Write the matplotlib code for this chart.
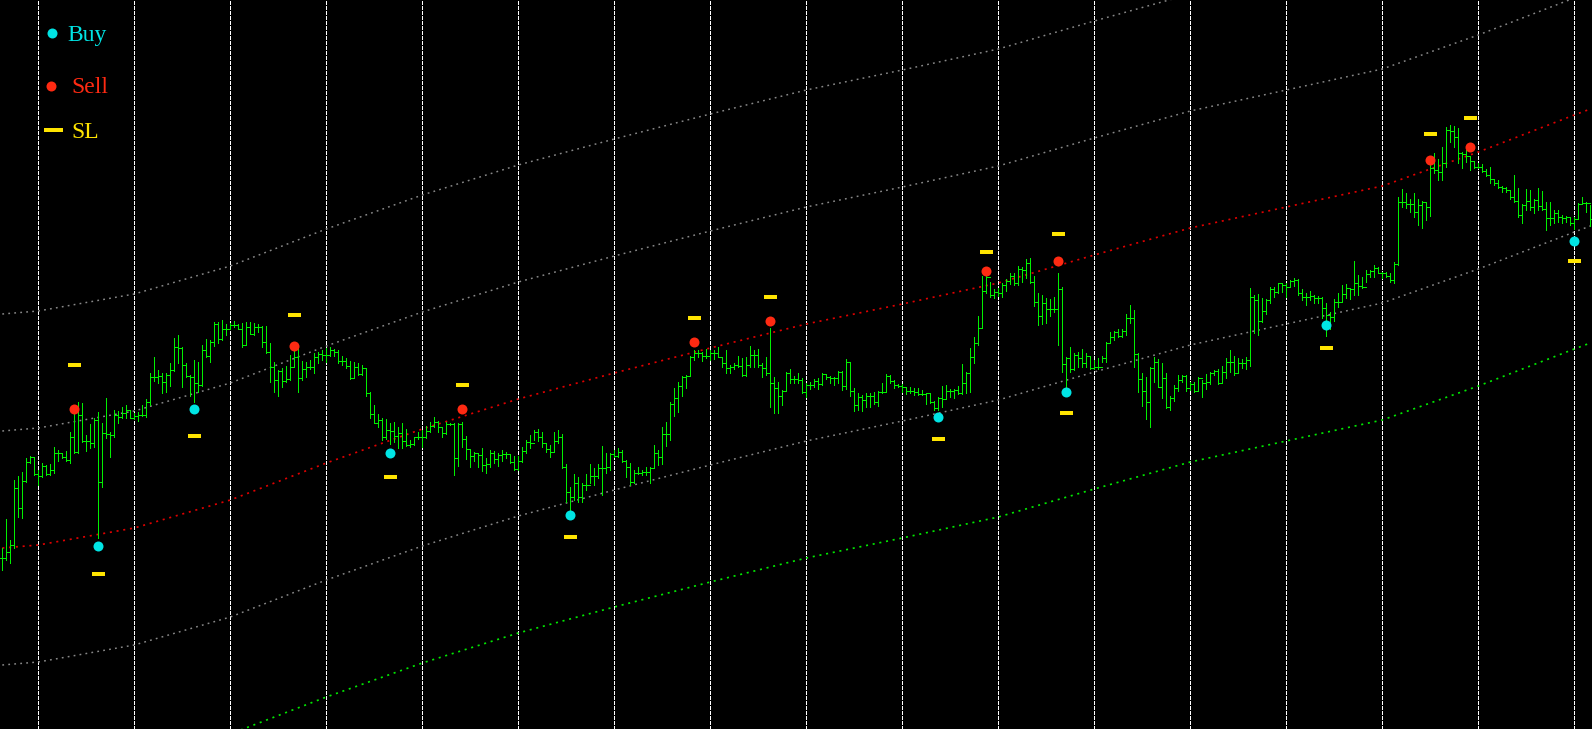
import numpy as np
import matplotlib
matplotlib.use("Agg")
import matplotlib.pyplot as plt

# ---------------- data (price levels, screen-depth units: larger = lower) ----------------
bar_high = [548,519,540,480,476,472,458,456,457,470,463,465,464,447,450,453,451,432,407,402,
            403,435,424,418,412,423,398,432,410,411,407,405,410,413,412,405,399,373,357,370,
            373,373,363,338,335,347,363,375,360,362,345,339,340,322,322,320,324,323,321,324,
            323,322,322,323,324,326,326,343,362,370,368,366,355,345,347,361,362,360,353,352,
            350,348,347,349,350,356,358,361,362,363,365,368,392,405,414,418,419,423,422,427,
            423,429,440,437,432,430,426,422,417,421,427,422,423,423,423,422,436,449,452,453,
            448,458,450,451,453,450,452,454,456,456,447,440,435,430,429,432,443,445,432,430,
            434,464,487,474,477,483,474,464,468,464,446,453,453,450,448,450,460,463,470,467,
            470,467,467,445,450,427,422,402,388,382,376,375,356,350,350,352,349,350,350,347,
            357,350,365,363,356,358,357,346,350,349,363,357,328,377,382,390,372,369,376,373,
            378,383,382,379,378,373,374,376,377,371,371,359,362,388,393,395,393,393,392,391,
            383,374,375,380,384,384,387,387,388,388,390,393,393,401,397,386,385,389,389,386,
            364,372,348,337,316,276,276,282,289,288,283,279,273,273,266,267,259,258,276,293,
            295,298,299,297,273,287,357,347,353,352,349,353,356,360,358,356,342,332,331,329,
            329,314,305,310,353,373,377,367,357,359,363,373,396,385,375,375,375,382,382,377,
            380,374,372,370,369,366,358,350,356,358,359,357,288,295,294,298,299,287,287,283,
            283,283,280,278,279,289,293,291,295,296,297,303,312,299,293,285,284,288,261,275,
            277,270,270,265,267,272,272,273,262,197,189,193,199,193,199,201,202,162,153,159,
            147,127,125,126,128,152,150,157,161,163,164,169,167,179,180,186,187,191,175,188,
            204,189,190,199,188,191,202,202,210,210,215,216,217,217,203,197,202,205]
bar_low = [570,560,563,548,517,518,482,463,475,485,477,475,475,473,461,458,461,463,453,453,
           442,451,448,447,538,487,438,457,437,423,418,418,418,419,421,416,417,405,381,383,
           393,392,386,371,363,387,377,396,402,392,386,357,362,346,343,340,335,328,327,329,
           347,345,334,335,332,347,353,382,392,396,387,382,380,367,392,380,377,369,373,363,
           360,362,356,356,363,365,368,379,378,375,375,396,418,423,427,440,439,444,442,448,
           448,446,447,445,439,447,438,432,427,432,437,434,425,475,466,447,459,467,461,467,
           471,473,467,463,466,461,458,463,470,470,462,453,448,440,441,447,452,457,452,443,
           468,502,510,500,502,502,490,483,485,478,495,473,470,457,457,462,477,485,483,474,
           475,475,483,468,465,464,446,440,416,412,396,388,376,360,357,361,358,360,359,357,
           367,373,373,369,367,376,376,367,367,367,377,375,407,413,413,405,391,383,383,383,
           393,397,389,387,389,385,379,383,385,383,390,389,396,411,410,411,407,407,404,406,
           393,391,383,388,387,392,394,393,395,395,395,404,403,410,410,407,398,397,398,394,
           394,393,392,363,345,328,293,297,298,296,297,291,284,285,285,282,278,283,306,325,
           324,323,316,312,345,372,393,372,370,367,367,367,369,369,369,362,362,343,340,337,
           337,335,323,367,392,406,419,427,382,387,398,408,410,401,391,382,391,390,392,391,
           397,389,384,375,384,383,378,372,375,373,368,369,366,333,335,322,314,303,297,293,
           292,297,287,286,295,300,305,300,303,303,318,336,329,321,307,301,298,299,295,295,
           288,282,277,277,273,278,277,282,283,265,207,208,212,217,225,228,220,216,173,180,
           180,167,142,147,163,168,162,170,168,168,172,176,183,185,188,192,192,199,202,217,
           223,210,210,213,210,210,230,225,223,222,223,222,225,229,219,203,212,226]
bar_close = [558,552,545,488,508,481,462,457,474,476,466,474,470,453,453,457,460,437,452,415,
             441,441,443,420,482,433,434,435,415,417,413,410,418,416,415,415,402,377,377,376,
             382,375,370,347,348,365,376,377,383,385,350,356,342,324,339,329,329,325,325,329,
             345,327,334,327,327,342,352,367,380,371,381,379,367,357,378,369,367,367,357,354,
             355,355,350,352,361,361,366,378,367,374,368,393,414,423,420,437,430,431,436,433,
             441,445,444,437,437,437,431,426,422,427,433,424,424,458,424,439,449,456,453,455,
             465,464,453,459,455,454,454,462,469,461,451,442,443,432,437,443,449,452,441,437,
             467,492,497,483,497,485,485,476,476,468,468,467,454,456,452,461,467,482,473,473,
             472,472,468,453,457,434,434,404,398,386,377,376,357,353,353,356,356,353,353,357,
             363,368,367,365,366,375,365,355,355,365,368,373,383,388,396,391,373,379,379,380,
             392,385,385,381,384,374,377,378,378,372,386,362,391,405,397,400,396,396,402,392,
             392,376,381,385,386,387,391,391,392,394,394,393,402,408,398,399,391,391,390,393,
             383,373,357,343,328,291,277,295,292,293,285,281,276,283,269,270,263,282,302,316,
             303,309,309,309,289,364,358,369,355,358,363,356,368,367,367,358,343,337,332,336,
             331,318,318,354,379,391,402,368,362,387,378,407,398,388,380,376,388,384,391,378,
             383,382,373,371,383,372,362,362,373,363,363,360,297,300,321,311,300,289,292,283,
             285,287,281,280,293,297,297,296,298,298,308,315,317,302,302,294,288,289,283,286,
             287,274,271,268,273,273,276,280,264,202,202,204,204,212,205,202,207,168,170,172,
             163,130,131,137,153,154,156,161,167,167,171,175,179,183,187,188,190,197,201,215,
             205,201,207,200,206,209,218,218,213,217,218,217,223,219,204,203,203,219]

buy_idx = [24, 48, 97, 142, 234, 266, 331, 393]
buy_level = [546, 409, 453, 515, 417, 392, 325, 241]
buy_sl = [574, 436, 477, 537, 439, 413, 348, 261]

sell_idx = [18, 73, 115, 173, 192, 246, 264, 357, 367]
sell_level = [409, 346, 409, 342, 321, 271, 261, 160, 147]
sell_sl = [365, 315, 385, 318, 297, 252, 234, 134, 118]

chan_idx = [0, 9, 33, 57, 81, 105, 129, 153, 177, 201, 225, 249, 273, 297, 321, 345, 369, 393, 397]
chan_mid = [548, 545, 528, 500, 463, 429, 399, 373, 348, 324, 304, 283, 255, 228, 207, 186, 152, 115, 109]
chan_sigma = 117

grid_idx = [9, 33, 57, 81, 105, 129, 153, 177, 201, 225, 249, 273, 297, 321, 345, 369, 393]

legend_labels = ["Buy", "Sell", "SL"]

# ---------------- styles ----------------
W, H, DPI = 1592, 729, 100
BAR_C = "#00F000"
BUY_C = "#00E4E4"
SELL_C = "#FF2A12"
SL_C = "#FFE400"
RED_C = "#E00000"
GRAY_C = "#888888"
GREEN_C = "#00E800"
px = 72.0 / DPI  # one pixel in points

fig = plt.figure(figsize=(W / DPI, H / DPI), dpi=DPI, facecolor="black")
ax = fig.add_axes([0, 0, 1, 1], facecolor="black")
n = len(bar_close)
idx = np.arange(n)
x_per_px = 0.25
ax.set_xlim(-2.3 * x_per_px, -2.3 * x_per_px + W * x_per_px)
ax.set_ylim(H, 0)
for s in ax.spines.values():
    s.set_visible(False)
ax.set_xticks([])
ax.set_yticks([])

# grid
for g in grid_idx:
    ax.axvline(g, color="white", lw=1.0 * px, linestyle=(0, (3, 2)), zorder=1, antialiased=False)

# channel
mid = np.array(chan_mid, dtype=float)
dot_ls = (0, (1.2, 2.8))
ax.plot(chan_idx, mid - 2 * chan_sigma, color=GRAY_C, lw=1.5 * px, ls=dot_ls, zorder=2)
ax.plot(chan_idx, mid - chan_sigma, color=GRAY_C, lw=1.5 * px, ls=dot_ls, zorder=2)
ax.plot(chan_idx, mid, color=RED_C, lw=1.7 * px, ls=dot_ls, zorder=2)
ax.plot(chan_idx, mid + chan_sigma, color=GRAY_C, lw=1.5 * px, ls=dot_ls, zorder=2)
ax.plot(chan_idx, mid + 2 * chan_sigma, color=GREEN_C, lw=1.7 * px, ls=dot_ls, zorder=2)

# OHLC bars
close = np.array(bar_close, dtype=float)
open_ = np.concatenate([[close[0]], close[:-1]])
ax.vlines(idx, bar_high, bar_low, color=BAR_C, lw=1.0 * px, zorder=3, antialiased=False)
ax.hlines(open_, idx - 0.5, idx, color=BAR_C, lw=1.0 * px, zorder=3, antialiased=False)
ax.hlines(close, idx, idx + 0.5, color=BAR_C, lw=1.0 * px, zorder=3, antialiased=False)

# stop-loss dashes
half = 1.7
ax.hlines(buy_sl, np.array(buy_idx) - half, np.array(buy_idx) + half, color=SL_C, lw=4 * px, zorder=4)
ax.hlines(sell_sl, np.array(sell_idx) - half, np.array(sell_idx) + half, color=SL_C, lw=4 * px, zorder=4)

# signals
ax.plot(buy_idx, buy_level, "o", color=BUY_C, ms=7.2, mec="none", zorder=5)
ax.plot(sell_idx, sell_level, "o", color=SELL_C, ms=7.2, mec="none", zorder=5)

# legend (manual, top-left)
def fx(p):
    return p / W

def fy(p):
    return 1 - p / H

font = dict(family=["Liberation Serif", "DejaVu Serif"], fontsize=17)
fig.lines.append(plt.Line2D([fx(51.7)], [fy(32.7)], transform=fig.transFigure, marker="o",
                            ms=7.2, color=BUY_C, mec="none", ls="none"))
fig.lines.append(plt.Line2D([fx(50.7)], [fy(86)], transform=fig.transFigure, marker="o",
                            ms=7.2, color=SELL_C, mec="none", ls="none"))
fig.lines.append(plt.Line2D([fx(44), fx(63)], [fy(129.7), fy(129.7)], transform=fig.transFigure,
                            color=SL_C, lw=4 * px, solid_capstyle="butt"))
fig.text(fx(67.7), fy(40.7), legend_labels[0], color=BUY_C, va="baseline", ha="left", **font)
fig.text(fx(71), fy(93.3), legend_labels[1], color=SELL_C, va="baseline", ha="left", **font)
fig.text(fx(71), fy(138.3), legend_labels[2], color=SL_C, va="baseline", ha="left", **font)

fig.savefig("out.png", dpi=DPI, facecolor="black")
